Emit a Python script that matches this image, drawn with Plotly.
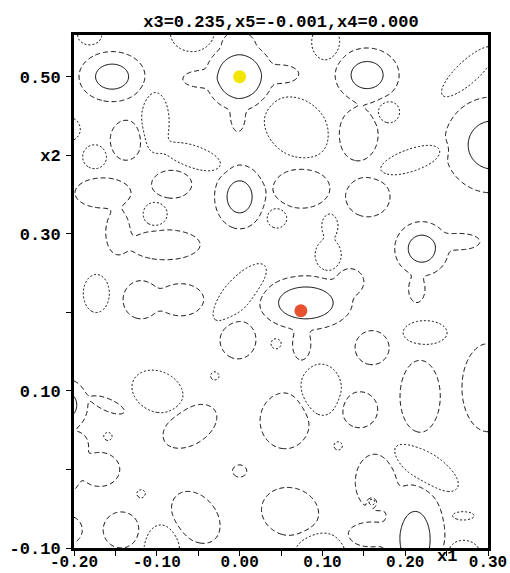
import numpy as np
import plotly.graph_objects as go

# ---- data (data units) ----
# Each feature: centre, half-extent of its outer drawn contour, tilt (deg), peak height.
# Peak > 4 gives a solid inner contour, 3 -> dashed only, -3 -> dotted only.
blob_x = [-0.154, 0.000, -0.048, 0.051, -0.002, -0.002, 0.154, 0.305, 0.000, 0.080,
          0.133, 0.075, -0.002, 0.220, 0.266, 0.214, -0.210, -0.159, -0.195, 0.212,
          -0.137, -0.082, 0.143, 0.075, 0.155, -0.165, -0.147, -0.090, -0.119, -0.071,
          0.160, -0.060, -0.143, -0.053, 0.000, 0.055, 0.145, 0.218, 0.300, 0.061,
          0.164, 0.157, -0.207, -0.169, -0.205,
          -0.181, -0.057, 0.104, -0.207, -0.175, -0.102, -0.056, 0.069, 0.180, 0.276,
          0.208, -0.102, 0.045, 0.109, 0.107, -0.173, 0.000, 0.224, 0.044, -0.099,
          -0.030, 0.098, 0.119, 0.225, -0.094, 0.097, 0.270, 0.270, 0.160, -0.119,
          -0.159]
blob_y = [0.500, 0.500, 0.497, 0.503, 0.449, 0.544, 0.502, 0.413, 0.347, 0.212,
          0.239, 0.159, 0.165, 0.281, 0.290, 0.229, 0.082, 0.082, 0.031, -0.089,
          0.419, 0.363, 0.426, 0.358, 0.347, 0.352, 0.302, 0.286, 0.216, 0.216,
          0.155, 0.055, -0.077, -0.061, -0.002, 0.062, 0.076, 0.093, 0.104, -0.054,
          -0.016, -0.083, -0.077, 0.000, -0.005,
          0.553, 0.556, 0.544, 0.433, 0.398, 0.442, 0.398, 0.435, 0.455, 0.506,
          0.394, 0.325, 0.320, 0.310, 0.273, 0.224, 0.225, 0.174, 0.160, 0.099,
          0.119, 0.101, 0.030, 0.002, -0.102, -0.105, -0.059, -0.108, -0.041, -0.031,
          0.042]
blob_rx = [0.0399, 0.0411, 0.0205, 0.0205, 0.0085, 0.0180, 0.0386, 0.0580, 0.0302, 0.0560,
           0.0169, 0.0109, 0.0217, 0.0326, 0.0242, 0.0097, 0.0266, 0.0217, 0.0121, 0.0362,
           0.0193, 0.0242, 0.0242, 0.0338, 0.0266, 0.0338, 0.0145, 0.0423, 0.0217, 0.0278,
           0.0205, 0.0362, 0.0217, 0.0362, 0.0085, 0.0302, 0.0217, 0.0242, 0.0314, 0.0350,
           0.0242, 0.0266, 0.0169, 0.0242, 0.0121,
           0.0145, 0.0266, 0.0169, 0.0145, 0.0145, 0.0169, 0.0362, 0.0435, 0.0133, 0.0435,
           0.0410, 0.0145, 0.0121, 0.0097, 0.0157, 0.0157, 0.0459, 0.0266, 0.0060, 0.0326,
           0.0050, 0.0254, 0.0050, 0.0459, 0.0217, 0.0302, 0.0133, 0.0205, 0.0060, 0.0050,
           0.0050]
blob_ry = [0.0318, 0.0433, 0.0102, 0.0115, 0.0190, 0.0127, 0.0344, 0.0610, 0.0407, 0.0344,
           0.0165, 0.0204, 0.0242, 0.0344, 0.0102, 0.0165, 0.0331, 0.0076, 0.0153, 0.0712,
           0.0254, 0.0178, 0.0331, 0.0254, 0.0254, 0.0191, 0.0280, 0.0191, 0.0242, 0.0204,
           0.0216, 0.0229, 0.0229, 0.0254, 0.0076, 0.0356, 0.0229, 0.0458, 0.0560, 0.0305,
           0.0356, 0.0153, 0.0178, 0.0216, 0.0229,
           0.0127, 0.0242, 0.0229, 0.0153, 0.0153, 0.0382, 0.0140, 0.0344, 0.0140, 0.0140,
           0.0140, 0.0153, 0.0127, 0.0153, 0.0204, 0.0242, 0.0178, 0.0153, 0.0064, 0.0254,
           0.0050, 0.0331, 0.0050, 0.0191, 0.0318, 0.0254, 0.0051, 0.0178, 0.0064, 0.0050,
           0.0050]
blob_angle = [0, 0, 0, 0, 0, 0, 0, 0, 0, 0,
              0, 0, 0, 0, 0, 0, 0, -25, 0, 0,
              0, 0, 0, 0, 0, 0, 0, 0, 0, 0,
              0, 35, 0, -55, 0, 0, 0, 0, 0, -20,
              0, 0, 0, 0, 0,
              0, 0, 0, 0, 0, 0, -20, -45, 0, 45,
              20, 0, 0, 0, 0, 0, 50, 0, 0, -30,
              0, 0, 0, -35, 0, 0, 0, 0, 0, 0,
              0]
blob_amp = [8, 16, 3, 3, 3, 3, 8, 8, 8, 12,
            3, 3, 3, 8, 3, 3, 8, 3, 3, 8,
            3, 3, 3, 3, 3, 3, 3, 3, 3, 3,
            3, 3, 3, 3, 3, 3, 3, 3, 3, 3,
            3, 3, 3, 3, 3,
            -3, -3, -3, -3, -3, -3, -3, -3, -3, -3,
            -3, -3, -3, -3, -3, -3, -3, -3, -3, -3,
            -3, -3, -3, -3, -3, -3, -3, -3, -3, -3,
            -3]

outer_level = 0.5
contour_levels = [4.0, 0.5, -0.5]
contour_dashes = ["solid", "5px,3px", "2px,2px"]

points_x = [0.0, 0.074]
points_y = [0.5, 0.202]
points_color = ["#f2e500", "#e8512f"]

x_ticks = [-0.20, -0.15, -0.10, -0.05, 0.00, 0.05, 0.10, 0.15, 0.20, 0.25, 0.30]
x_ticktext = ["-0.20", "", "-0.10", "", "0.00", "", "0.10", "", "0.20", "", "0.30"]
y_ticks = [-0.10, 0.00, 0.10, 0.20, 0.30, 0.40, 0.50]
y_ticktext = ["-0.10", "", "0.10", "", "0.30", "x2", "0.50"]

title_text = "x3=0.235,x5=-0.001,x4=0.000"
x_range = [-0.20, 0.30]
y_range = [-0.10, 0.553]

# ---- build the surface ----
xs = np.linspace(x_range[0], x_range[1], 240)
ys = np.linspace(y_range[0], y_range[1], 300)
X, Y = np.meshgrid(xs, ys)
Z = np.zeros_like(X)
for bx, by, rx, ry, ang, amp in zip(blob_x, blob_y, blob_rx, blob_ry, blob_angle, blob_amp):
    k = np.sqrt(2 * np.log(abs(amp) / outer_level))
    sx, sy = rx / k, ry / k
    t = np.deg2rad(ang)
    dx, dy = X - bx, Y - by
    u = dx * np.cos(t) + dy * np.sin(t)
    v = -dx * np.sin(t) + dy * np.cos(t)
    Z += amp * np.exp(-0.5 * ((u / sx) ** 2 + (v / sy) ** 2))

font_family = "Liberation Mono"
bold_font = dict(family=font_family, size=17, color="black", weight="bold")
xtick_font = dict(family=font_family, size=16, color="black", weight="bold")

fig = go.Figure()
for lev, dash in zip(contour_levels, contour_dashes):
    fig.add_trace(go.Contour(
        x=xs, y=ys, z=Z,
        contours=dict(start=lev, end=lev, size=1, coloring="none", showlabels=False),
        line=dict(color="black", width=1, dash=dash, smoothing=0.6),
        showscale=False, hoverinfo="skip",
    ))

fig.add_trace(go.Scatter(
    x=points_x, y=points_y, mode="markers",
    marker=dict(color=points_color, size=13, line=dict(width=0)),
    hoverinfo="skip", showlegend=False,
))

axis_common = dict(
    showgrid=False, zeroline=False, automargin=False,
    showline=True, linecolor="black", linewidth=3, mirror=True,
    ticks="outside", ticklen=5, tickwidth=1, tickcolor="black",
)

fig.update_layout(
    width=510, height=573,
    margin=dict(l=74, r=22, t=35, b=25),
    paper_bgcolor="white", plot_bgcolor="white",
    showlegend=False,
    title=dict(text=title_text, x=(74 + 488) / 2 / 510, xanchor="center",
               y=1 - 21 / 573, yanchor="middle", automargin=False,
               font=bold_font),
    xaxis=dict(range=x_range, tickmode="array", tickvals=x_ticks, ticktext=x_ticktext,
               ticklabelstandoff=-8, tickfont=xtick_font, **axis_common),
    yaxis=dict(range=y_range, tickmode="array", tickvals=y_ticks, ticktext=y_ticktext,
               ticklabelstandoff=2, tickfont=bold_font, **axis_common),
    annotations=[dict(text="x1", x=0.25, xref="x", y=0, yref="paper",
                      yanchor="middle", yshift=-8, showarrow=False,
                      font=bold_font)],
)

fig.write_html(
    "out.html",
    config={"displayModeBar": False},
    post_script="document.body.style.margin='0px';document.body.style.padding='0px';"
                "document.body.style.overflow='hidden';",
)
